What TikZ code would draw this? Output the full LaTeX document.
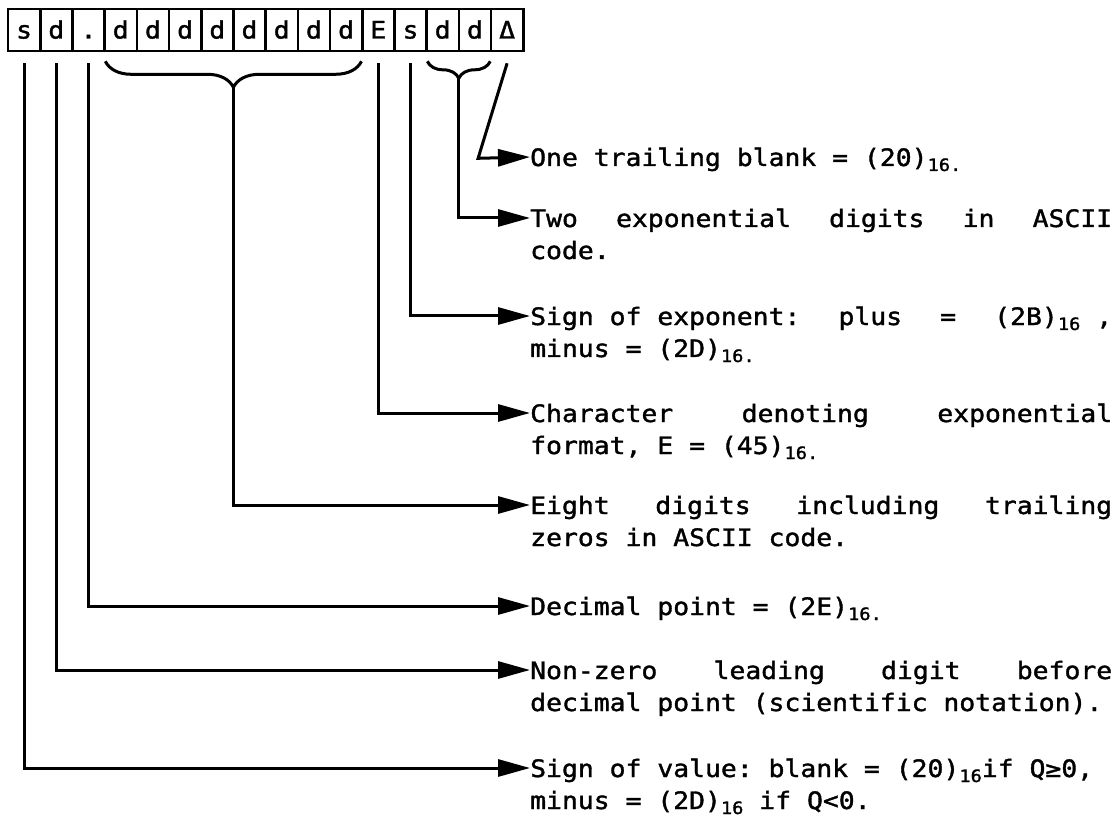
\documentclass[tikz,border=0pt]{standalone}
\usepackage{fontspec}
\newfontfamily\typefont[FakeStretch=1.1, FakeBold=1.5]{DejaVu Sans Mono}
\usepackage{tikz}
\usetikzlibrary{calc, arrows.meta, decorations.pathreplacing}

% spaces as wide as one letter, as on a typewriter
\newcommand{\fixspace}{\frenchspacing\spaceskip=15.9pt\relax}
\newcommand{\hexsub}[1]{\raisebox{-5pt}{\fontsize{17}{17}\selectfont #1}}

\begin{document}
\begin{tikzpicture}[x=1pt, y=-1pt,
      cell/.style={draw, line width=2.6pt, minimum width=32.2pt, minimum height=42pt, inner sep=0pt,
        text height=17pt, text depth=0pt, font=\typefont\fontsize{24}{24}\selectfont},
      conn/.style={line width=3pt, -{Triangle[length=32pt, width=17pt]}},
      brace/.style={line width=3pt, decorate, decoration={brace, mirror, amplitude=#1}},
      desc/.style={anchor=base west, inner sep=0pt, text width=582pt, align=left,
        font=\typefont\fontsize{24}{32}\selectfont, execute at begin node=\fixspace}]
    \useasboundingbox (0,0) rectangle (1119,818);

    % the sixteen character cells
    \foreach \ch [count=\i from 0] in {s,d,.,d,d,d,d,d,d,d,d,E,s,d,d,Δ}
      \node[cell] (c\i) at (24.1+32.2*\i, 30) {\ch};

    \node[desc] (t1) at (530,166) {One trailing blank = (20)\hexsub{16.}};
    \node[desc] (t2) at (530,227) {Two\hfill exponential\hfill digits\hfill in\hfill ASCII\\code.};
    \node[desc] (t3) at (530,325) {Sign of exponent:\hfill plus\hfill =\hfill (2B)\hexsub{16} ,\\minus = (2D)\hexsub{16.}};
    \node[desc] (t4) at (530,422) {Character\hfill denoting\hfill exponential\\format, E = (45)\hexsub{16.}};
    \node[desc] (t5) at (530,514) {Eight\hfill digits\hfill including\hfill trailing\\zeros in ASCII code.};
    \node[desc] (t6) at (530,615) {Decimal point = (2E)\hexsub{16.}};
    \node[desc] (t7) at (530,679) {Non-zero\hfill leading\hfill digit\hfill before\\decimal point (scientific notation).};
    \node[desc] (t8) at (530,777) {Sign of value: blank = (20)\hexsub{16}if Q≥0,\\minus = (2D)\hexsub{16} if Q<0.};

    % braces under the digit groups
    \draw[brace=26pt] ([xshift=2pt, yshift=-9pt]c3.south west) -- ([xshift=-2pt, yshift=-9pt]c10.south east);
    \draw[brace=17pt] ([xshift=2pt, yshift=-9pt]c13.south west) -- ([xshift=-2pt, yshift=-9pt]c14.south east);

    \draw[conn] ([yshift=-11pt]c15.south) -- ++(-29,95) -- ([yshift=9pt]t1.base west);
    \draw[conn] ($(c13.south west)!0.5!(c14.south east)+(0,26)$) |- ([yshift=9pt]t2.base west);
    \draw[conn] ([yshift=-11pt]c12.south) |- ([yshift=9pt]t3.base west);
    \draw[conn] ([yshift=-11pt]c11.south) |- ([yshift=9pt]t4.base west);
    \draw[conn] ($(c3.south west)!0.5!(c10.south east)+(0,35)$) |- ([yshift=9pt]t5.base west);
    \draw[conn] ([yshift=-11pt]c2.south) |- ([yshift=9pt]t6.base west);
    \draw[conn] ([yshift=-11pt]c1.south) |- ([yshift=9pt]t7.base west);
    \draw[conn] ([yshift=-11pt]c0.south) |- ([yshift=9pt]t8.base west);
  \end{tikzpicture}
\end{document}
